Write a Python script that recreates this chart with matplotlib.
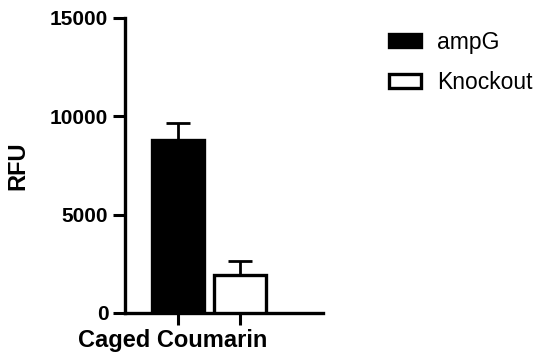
import matplotlib
matplotlib.use("Agg")
import matplotlib.pyplot as plt
from matplotlib.patches import Patch

# data
groups = ["ampG", "Knockout"]
means = [8800, 1950]
errors = [850, 700]
face_colors = ["black", "white"]
category = "Caged Coumarin"
yticks = [0, 5000, 10000, 15000]

plt.rcParams["font.family"] = ["Liberation Sans", "DejaVu Sans"]

fig = plt.figure(figsize=(5.42, 3.54), dpi=100)
ax = fig.add_axes([125 / 542, 1 - 313 / 354, 198 / 542, 295 / 354])

xpos = [0, 1]
for x, m, e, fc in zip(xpos, means, errors, face_colors):
    ax.errorbar(x, m, yerr=[[0], [e]], fmt="none", ecolor="black",
                elinewidth=2.0, capsize=8.5, capthick=2.0, zorder=2)
    ax.bar(x, m, width=0.84, color=fc, edgecolor="black", linewidth=2.4,
           zorder=3)

ax.set_xlim(-0.855, 2.34)
ax.set_ylim(0, 15000)
ax.set_yticks(yticks)
ax.set_yticklabels([str(t) for t in yticks], fontsize=15, fontweight="bold")
ax.set_xticks(xpos)
ax.set_xticklabels([])
ax.tick_params(axis="both", width=2.2, length=8.5, color="black")

for side in ["top", "right"]:
    ax.spines[side].set_visible(False)
for side in ["left", "bottom"]:
    ax.spines[side].set_linewidth(2.4)

ax.set_ylabel("RFU", fontsize=17, fontweight="bold", labelpad=15)
fig.text(173 / 542, 1 - 341 / 354, category, fontsize=17, fontweight="bold",
         ha="center", va="center")

handles = [Patch(facecolor=fc, edgecolor="black", linewidth=2.4)
           for fc in face_colors]
fig.legend(handles, groups, loc="upper left",
           bbox_to_anchor=(368 / 542, 1 - 10 / 354), frameon=False,
           fontsize=16.5, handlelength=1.4, handleheight=0.55,
           handletextpad=0.7, labelspacing=0.75)

fig.savefig("out.png", dpi=100)
